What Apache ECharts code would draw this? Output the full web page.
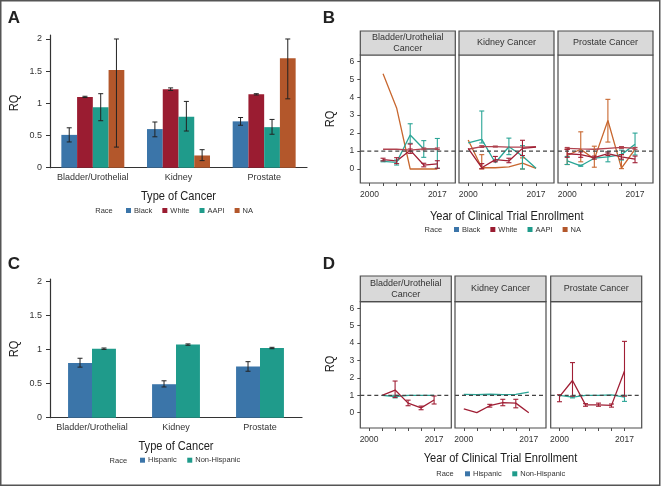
<!DOCTYPE html>
<html><head><meta charset="utf-8">
<script src="https://cdn.jsdelivr.net/npm/echarts@6/dist/echarts.min.js"></script>
<style>html,body{margin:0;padding:0;background:#fff}#c{width:662px;height:487px}</style>
</head><body><div id="c"></div>
<script>
// ---------- DATA ----------
const cancerTypes = ['Bladder/Urothelial', 'Kidney', 'Prostate'];
const raceGroups = ['Black', 'White', 'AAPI', 'NA'];
const ethGroups = ['Hispanic', 'Non-Hispanic'];
const barTicks = [0, 0.5, 1, 1.5, 2];

// Panel A (RQ by race)
const aBlack = [0.51, 0.60, 0.72];
const aBlackErr = [[0.40, 0.62], [0.48, 0.71], [0.66, 0.78]];
const aWhite = [1.10, 1.22, 1.14];
const aWhiteErr = [[1.09, 1.11], [1.20, 1.24], [1.13, 1.15]];
const aAAPI = [0.94, 0.79, 0.63];
const aAAPIErr = [[0.73, 1.15], [0.57, 1.03], [0.52, 0.75]];
const aNA = [1.52, 0.19, 1.70];
const aNAErr = [[0.32, 2.0], [0.11, 0.28], [1.07, 2.0]];

// Panel C (RQ by ethnicity)
const cHisp = [0.80, 0.49, 0.75];
const cHispErr = [[0.74, 0.87], [0.45, 0.54], [0.68, 0.82]];
const cNonHisp = [1.01, 1.07, 1.02];
const cNonHispErr = [[1.00, 1.02], [1.06, 1.08], [1.01, 1.03]];

// Panels B / D (RQ over enrollment year)
const facetTitles = ['Bladder/Urothelial\nCancer', 'Kidney Cancer', 'Prostate Cancer'];
const binYears = [2000, 2003.4, 2006.8, 2010.2, 2013.6, 2017];
const yearLabels = [2000, 2017];
const rqTicks = [0, 1, 2, 3, 4, 5, 6];
const refRQ = 1;

// B - Bladder
const bBladderNA = [null, 5.3, 3.4, 0, 0, 0];
const bBladderNAErr = [null, null, null, null, null, null];
const bBladderAAPI = [null, 0.43, 0.37, 1.89, 1.11, 1.11];
const bBladderAAPIErr = [null, [0.40, 0.46], [0.22, 0.50], [1.43, 2.52], [0.65, 1.58], [0.04, 1.70]];
const bBladderWhite = [null, 1.10, 1.10, 1.05, 1.12, 1.12];
const bBladderWhiteErr = [null, null, null, [1.00, 1.12], [1.07, 1.17], [1.08, 1.17]];
const bBladderBlack = [null, 0.52, 0.45, 1.05, 0.22, 0.28];
const bBladderBlackErr = [null, [0.45, 0.60], [0.30, 0.63], [0.87, 1.39], [0.12, 0.32], [0.04, 0.46]];
// B - Kidney
const bKidneyNA = [1.62, 0.07, 0.07, 0.12, 0.33, 0.04];
const bKidneyNAErr = [null, [0.0, 0.80], null, null, [0.0, 0.62], null];
const bKidneyAAPI = [1.45, 1.65, 0.35, 1.24, 0.72, 0.04];
const bKidneyAAPIErr = [null, [1.45, 3.23], null, [0.80, 1.72], [0.0, 1.30], null];
const bKidneyWhite = [1.10, 1.25, 1.25, 1.22, 1.22, 1.25];
const bKidneyWhiteErr = [null, [1.20, 1.30], [1.22, 1.28], null, null, null];
const bKidneyBlack = [1.15, 0.07, 0.52, 0.45, 1.15, 1.22];
const bKidneyBlackErr = [null, [0.02, 0.30], [0.40, 0.70], [0.35, 0.60], [0.75, 1.60], null];
// B - Prostate
const bProstateNA = [0.75, 1.10, 0.55, 2.70, 0.05, 1.10];
const bProstateNAErr = [[0.25, 1.10], [0.40, 2.07], [0.10, 1.27], [1.50, 3.88], [0.02, 0.80], null];
const bProstateAAPI = [0.45, 0.18, 0.60, 0.68, 0.80, 1.38];
const bProstateAAPIErr = [[0.25, 0.70], [0.15, 0.22], null, [0.40, 0.95], [0.50, 1.05], [0.78, 2.00]];
const bProstateWhite = [1.15, 1.12, 1.10, 1.15, 1.20, 1.15];
const bProstateWhiteErr = [[1.10, 1.20], null, null, null, [1.15, 1.25], [1.10, 1.20]];
const bProstateBlack = [0.85, 0.80, 0.63, 0.85, 0.68, 0.55];
const bProstateBlackErr = [[0.65, 1.10], [0.65, 0.95], [0.55, 0.72], [0.75, 0.95], [0.55, 0.80], [0.35, 0.72]];

// D - Bladder
const dBladderHisp = [null, 1.00, 1.30, 0.55, 0.28, 0.73];
const dBladderHispErr = [null, null, [0.88, 1.82], [0.40, 0.72], [0.17, 0.38], [0.50, 0.96]];
const dBladderNon = [null, 1.00, 0.93, 1.00, 1.00, 1.00];
const dBladderNonErr = [null, null, [0.85, 1.00], null, null, null];
// D - Kidney
const dKidneyHisp = [0.22, 0.00, 0.40, 0.58, 0.55, 0.00];
const dKidneyHispErr = [null, null, [0.32, 0.48], [0.40, 0.77], [0.28, 0.77], null];
const dKidneyNon = [1.05, 1.04, 1.06, 1.04, 1.05, 1.18];
const dKidneyNonErr = [null, null, null, null, null, null];
// D - Prostate
const dProstateHisp = [0.92, 1.85, 0.45, 0.45, 0.42, 2.40];
const dProstateHispErr = [[0.63, 1.03], [0.95, 2.88], [0.37, 0.52], [0.37, 0.55], [0.32, 0.50], [0.95, 4.10]];
const dProstateNon = [1.00, 0.90, 1.00, 1.00, 1.02, 0.90];
const dProstateNonErr = [null, [0.85, 0.95], null, null, null, [0.65, 1.00]];

// ---------- STYLE / LAYOUT ----------
const FF = '"Liberation Sans", Arial, sans-serif';
const NARROW = 0.82;
const C_BLUE = '#3b75a9', C_RED = '#9a1c31', C_TEAL = '#1f9b8b', C_ORANGE = '#b3572b';
const L_RED = '#a01f35', L_RED2 = '#b0424f', L_TEAL = '#2aa596', L_ORANGE = '#c8672f';
const AXC = '#333';
const TXT = '#333';

const xMin = 1997.7, xMax = 2021.5;
const bFacetLeft = [360.3, 459, 558], bW = 95, bTop = 55, bH = 128, bStripTop = 31;
const dFacetLeft = [360.3, 455, 550.7], dW = 91, dTop = 301.7, dH = 126.3, dStripTop = 276;

const grids = [
  {left: 50, top: 35, width: 257, height: 132.7},
  {left: 50, top: 279, width: 252, height: 138.7}
];
bFacetLeft.forEach(l => grids.push({left: l, top: bTop, width: bW, height: bH, show: true, borderColor: '#4d4d4d', borderWidth: 1.2, backgroundColor: '#fff'}));
dFacetLeft.forEach(l => grids.push({left: l, top: dTop, width: dW, height: dH, show: true, borderColor: '#4d4d4d', borderWidth: 1.2, backgroundColor: '#fff'}));

const xAxes = [], yAxes = [];
[0, 1].forEach(gi => {
  xAxes.push({type: 'category', gridIndex: gi, data: cancerTypes,
    axisLine: {lineStyle: {color: AXC, width: 1.2}}, axisTick: {show: false},
    axisLabel: {interval: 0, hideOverlap: false, fontSize: 9, color: TXT, margin: 5, fontFamily: FF}, splitLine: {show: false}});
  yAxes.push({type: 'value', gridIndex: gi, min: 0, max: gi === 0 ? 2.062 : 2.03,
    axisLine: {show: true, onZero: false, lineStyle: {color: AXC, width: 1.2}},
    axisTick: {show: true, length: 4, customValues: barTicks, lineStyle: {color: AXC}},
    axisLabel: {customValues: barTicks, fontSize: 9, color: TXT, margin: 8, fontFamily: FF},
    splitLine: {show: false}});
});
for (let k = 0; k < 6; k++) {
  const gi = k + 2, first = (k % 3 === 0), isB = k < 3;
  xAxes.push({type: 'value', gridIndex: gi, min: xMin, max: xMax,
    axisLine: {show: false, onZero: false},
    axisTick: {show: true, length: 3, customValues: binYears, lineStyle: {color: '#4d4d4d'}},
    axisLabel: {customValues: yearLabels, fontSize: 8.5, color: TXT, margin: 7, fontFamily: FF,
      formatter: v => String(Math.round(v))},
    splitLine: {show: false}});
  yAxes.push({type: 'value', gridIndex: gi, min: isB ? -0.78 : -0.88, max: isB ? 6.35 : 6.38,
    axisLine: {show: false, onZero: false},
    axisTick: {show: first, length: 3, customValues: rqTicks, lineStyle: {color: '#4d4d4d'}},
    axisLabel: {show: first, customValues: rqTicks, fontSize: 8.5, color: TXT, margin: 6, fontFamily: FF},
    splitLine: {show: false}});
}

// ---------- SERIES ----------
const series = [];
function barErrRender(idx, n, gap) {
  return function (params, api) {
    const c = api.value(0);
    const band = api.size([1, 0])[0];
    const bw = band * (1 - gap) / n;
    const cx = api.coord([c, 0])[0] + (idx - (n - 1) / 2) * bw;
    const yl = api.coord([c, api.value(1)])[1];
    const yh = api.coord([c, api.value(2)])[1];
    const cw = 2.5, st = {stroke: '#222', lineWidth: 1};
    return {type: 'group', children: [
      {type: 'line', shape: {x1: cx, y1: yl, x2: cx, y2: yh}, style: st},
      {type: 'line', shape: {x1: cx - cw, y1: yl, x2: cx + cw, y2: yl}, style: st},
      {type: 'line', shape: {x1: cx - cw, y1: yh, x2: cx + cw, y2: yh}, style: st}]};
  };
}
function addBars(gi, names, vals, errs, colors, gap) {
  names.forEach((nm, i) => {
    series.push({type: 'bar', name: nm, xAxisIndex: gi, yAxisIndex: gi, data: vals[i],
      barGap: '0%', barCategoryGap: (gap * 100) + '%', itemStyle: {color: colors[i]}, silent: true});
  });
  names.forEach((nm, i) => {
    series.push({type: 'custom', name: nm + ' CI', xAxisIndex: gi, yAxisIndex: gi, z: 5, silent: true,
      data: errs[i].map((e, j) => [j, e[0], e[1]]), renderItem: barErrRender(i, names.length, gap)});
  });
}
addBars(0, raceGroups, [aBlack, aWhite, aAAPI, aNA], [aBlackErr, aWhiteErr, aAAPIErr, aNAErr],
  [C_BLUE, C_RED, C_TEAL, C_ORANGE], 0.265);
addBars(1, ethGroups, [cHisp, cNonHisp], [cHispErr, cNonHispErr], [C_BLUE, C_TEAL], 0.43);

function lineErrRender(color) {
  return function (params, api) {
    const x = api.value(0);
    const p1 = api.coord([x, api.value(1)]);
    const p2 = api.coord([x, api.value(2)]);
    const cw = 2.5, st = {stroke: color, lineWidth: 1.1};
    return {type: 'group', children: [
      {type: 'line', shape: {x1: p1[0], y1: p1[1], x2: p2[0], y2: p2[1]}, style: st},
      {type: 'line', shape: {x1: p1[0] - cw, y1: p1[1], x2: p1[0] + cw, y2: p1[1]}, style: st},
      {type: 'line', shape: {x1: p2[0] - cw, y1: p2[1], x2: p2[0] + cw, y2: p2[1]}, style: st}]};
  };
}
function addTrend(gi, name, vals, errs, color) {
  series.push({type: 'line', name: name, xAxisIndex: gi, yAxisIndex: gi, symbol: 'none', silent: true,
    data: binYears.map((y, i) => vals[i] == null ? null : [y, vals[i]]).filter(Boolean),
    lineStyle: {color: color, width: 1.3}, itemStyle: {color: color}, z: 3});
  series.push({type: 'custom', name: name + ' CI', xAxisIndex: gi, yAxisIndex: gi, silent: true, z: 4,
    data: binYears.map((y, i) => errs[i] ? [y, errs[i][0], errs[i][1]] : null).filter(Boolean),
    renderItem: lineErrRender(color)});
}
function addRef(gi) {
  series.push({type: 'line', name: 'ref' + gi, xAxisIndex: gi, yAxisIndex: gi, symbol: 'none', silent: true,
    data: [[xMin, refRQ], [xMax, refRQ]], lineStyle: {color: '#444', width: 1.2, type: [4, 3]}, z: 6});
}
const bSets = [
  [bBladderNA, bBladderNAErr, bBladderAAPI, bBladderAAPIErr, bBladderWhite, bBladderWhiteErr, bBladderBlack, bBladderBlackErr],
  [bKidneyNA, bKidneyNAErr, bKidneyAAPI, bKidneyAAPIErr, bKidneyWhite, bKidneyWhiteErr, bKidneyBlack, bKidneyBlackErr],
  [bProstateNA, bProstateNAErr, bProstateAAPI, bProstateAAPIErr, bProstateWhite, bProstateWhiteErr, bProstateBlack, bProstateBlackErr]
];
bSets.forEach((s, k) => {
  const gi = 2 + k;
  addTrend(gi, 'B' + k + ' NA', s[0], s[1], L_ORANGE);
  addTrend(gi, 'B' + k + ' AAPI', s[2], s[3], L_TEAL);
  addTrend(gi, 'B' + k + ' White', s[4], s[5], L_RED2);
  addTrend(gi, 'B' + k + ' Black', s[6], s[7], L_RED);
  addRef(gi);
});
const dSets = [
  [dBladderNon, dBladderNonErr, dBladderHisp, dBladderHispErr],
  [dKidneyNon, dKidneyNonErr, dKidneyHisp, dKidneyHispErr],
  [dProstateNon, dProstateNonErr, dProstateHisp, dProstateHispErr]
];
dSets.forEach((s, k) => {
  const gi = 5 + k;
  addTrend(gi, 'D' + k + ' Non-Hispanic', s[0], s[1], L_TEAL);
  addTrend(gi, 'D' + k + ' Hispanic', s[2], s[3], L_RED);
  addRef(gi);
});

// ---------- LEGENDS ----------
function legend(names, left, top, gap) {
  return {data: names, left: left, top: top, orient: 'horizontal', itemWidth: 5, itemHeight: 5, itemGap: gap,
    icon: 'rect', padding: 0, selectedMode: false,
    textStyle: {fontSize: 7.5, color: TXT, fontFamily: FF, padding: [0, 0, 0, -2]}};
}

// ---------- GRAPHICS (decor + titles) ----------
const g = [];
function txt(t, x, y, font, extra) {
  g.push(Object.assign({type: 'text', x: x, y: y, silent: true,
    style: {text: t, font: font, fill: '#222', align: 'center', verticalAlign: 'middle'}}, extra || {}));
}
function title(t, x, y) { txt(t, x, y, '13.5px ' + FF, {scaleX: NARROW}); }
function yTitle(x, y) { txt('RQ', x, y, '13.5px ' + FF, {scaleX: NARROW, rotation: Math.PI / 2}); }
function raceLbl(x, y) { g.push({type: 'text', x: x, y: y, silent: true,
  style: {text: 'Race', font: '7.5px ' + FF, fill: TXT, align: 'center', verticalAlign: 'middle'}}); }

g.push({type: 'rect', shape: {x: 0.75, y: 0.75, width: 659, height: 484.5}, style: {fill: 'none', stroke: '#555', lineWidth: 1.5}, silent: true});
txt('A', 14, 18, 'bold 17px ' + FF);
txt('B', 329, 18, 'bold 17px ' + FF);
txt('C', 14, 264, 'bold 17px ' + FF);
txt('D', 329, 264, 'bold 17px ' + FF);
title('Type of Cancer', 178.5, 196);
title('Type of Cancer', 176, 446);
title('Year of Clinical Trial Enrollment', 506.7, 216);
title('Year of Clinical Trial Enrollment', 500.5, 458.3);
yTitle(14, 103); yTitle(14, 349); yTitle(330, 119); yTitle(330, 364);
raceLbl(104, 211); raceLbl(433.3, 230); raceLbl(118.3, 460.7); raceLbl(445, 474.3);
function strips(lefts, w, top, bottom) {
  lefts.forEach((l, k) => {
    g.push({type: 'rect', silent: true, shape: {x: l, y: top, width: w, height: bottom - top},
      style: {fill: '#d9d9d9', stroke: '#4d4d4d', lineWidth: 1.2}});
    g.push({type: 'text', silent: true, x: l + w / 2, y: (top + bottom) / 2,
      style: {text: facetTitles[k], font: '9px ' + FF, fill: '#333', align: 'center', verticalAlign: 'middle', lineHeight: 10.5}});
  });
}
strips(bFacetLeft, bW, bStripTop, bTop);
strips(dFacetLeft, dW, dStripTop, dTop);

const chart = echarts.init(document.getElementById('c'), null, {renderer: 'canvas'});
chart.setOption({
  animation: false,
  backgroundColor: '#fff',
  grid: grids, xAxis: xAxes, yAxis: yAxes, series: series,
  legend: [legend(raceGroups, 126, 206.5, 10), legend(raceGroups, 454, 225.5, 10),
           legend(ethGroups, 140, 456.2, 10.5), legend(ethGroups, 465, 469.8, 10.5)],
  graphic: g
});
</script></body></html>
